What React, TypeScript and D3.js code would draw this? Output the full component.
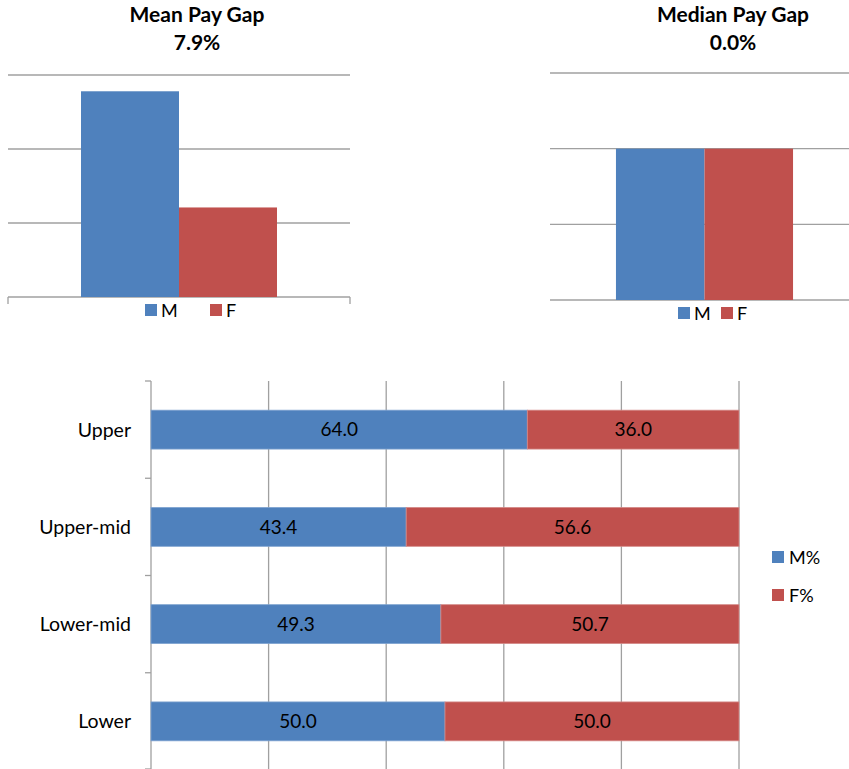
import React from "react";
import * as d3 from "d3";

const series = ["M", "F"];
const meanValues = [19.78, 18.21];
const meanDomain = [17, 20];
const meanTicks = [17, 18, 19, 20];
const medianValues = [18.0, 18.0];
const medianDomain = [16, 19];
const medianTicks = [16, 17, 18, 19];
const quartiles = ["Upper", "Upper-mid", "Lower-mid", "Lower"];
const malePct = [64.0, 43.4, 49.3, 50.0];
const femalePct = [36.0, 56.6, 50.7, 50.0];
const pctTicks = [0, 20, 40, 60, 80, 100];
const quartileLegend = ["M%", "F%"];

const BLUE = "#4F81BD";
const RED = "#C0504D";
const GRID = "#a0a0a0";
const FONT = "Lato, 'Open Sans', sans-serif";

function fmtGap(m: number, f: number) {
  return (((m - f) / m) * 100).toFixed(1) + "%";
}

type ColProps = {
  title: string;
  values: number[];
  domain: number[];
  ticks: number[];
  left: number;
  right: number;
  top: number;
  bottom: number;
  titleX: number;
  edgeTicks: boolean;
  legendX: number[];
};

function ColumnChart(p: ColProps) {
  const y = d3.scaleLinear().domain(p.domain).range([p.bottom, p.top]);
  const x = d3.scaleBand<string>().domain(series).range([p.left, p.right]).paddingInner(0).paddingOuter(0.745);
  const colors = [BLUE, RED];
  return (
    <g>
      <text x={p.titleX} y={22} textAnchor="middle" fontFamily={FONT} fontWeight="bold" fontSize={21} fill="#000">
        {p.title}
      </text>
      <text x={p.titleX} y={50} textAnchor="middle" fontFamily={FONT} fontWeight="bold" fontSize={21} fill="#000">
        {fmtGap(p.values[0], p.values[1])}
      </text>
      {p.ticks.map((t) => (
        <line key={t} x1={p.left} x2={p.right} y1={y(t)} y2={y(t)} stroke={GRID} strokeWidth={1.3} />
      ))}
      {p.edgeTicks && (
        <g>
          <line x1={p.left} x2={p.left} y1={p.bottom} y2={p.bottom + 7} stroke={GRID} strokeWidth={1.3} />
          <line x1={p.right} x2={p.right} y1={p.bottom} y2={p.bottom + 7} stroke={GRID} strokeWidth={1.3} />
        </g>
      )}
      {series.map((s, i) => (
        <rect key={s} x={x(s)} width={x.bandwidth()} y={y(p.values[i])} height={y(p.domain[0]) - y(p.values[i])} fill={colors[i]} />
      ))}
      {series.map((s, i) => (
        <g key={"lg" + s}>
          <rect x={p.legendX[i]} y={p.bottom + 7} width={12} height={12} fill={colors[i]} />
          <text x={p.legendX[i] + 16} y={p.bottom + 19.5} fontFamily={FONT} fontSize={18} fill="#000">
            {s}
          </text>
        </g>
      ))}
    </g>
  );
}

function QuartileChart() {
  const left = 151;
  const right = 739;
  const top = 381;
  const bottom = 770;
  const x = d3.scaleLinear().domain([0, 100]).range([left, right]);
  const y = d3.scaleBand<string>().domain(quartiles).range([top, bottom]).paddingInner(0.6).paddingOuter(0.3);
  const yb = d3.scaleBand<string>().domain(quartiles).range([top, bottom]);
  const cy = (q: string) => (y(q) as number) + y.bandwidth() / 2;
  return (
    <g>
      {pctTicks.slice(1).map((t) => (
        <line key={t} x1={x(t)} x2={x(t)} y1={top} y2={bottom} stroke={GRID} strokeWidth={1.3} />
      ))}
      <line x1={left} x2={left} y1={top} y2={bottom} stroke={GRID} strokeWidth={1.3} />
      {quartiles.map((q) => (
        <line key={"t" + q} x1={left - 6} x2={left} y1={yb(q)} y2={yb(q)} stroke={GRID} strokeWidth={1.3} />
      ))}
      <line x1={left - 6} x2={left} y1={bottom - 1} y2={bottom - 1} stroke={GRID} strokeWidth={1.3} />
      {quartiles.map((q, i) => (
        <g key={q}>
          <rect x={x(0)} y={y(q)} width={x(malePct[i]) - x(0)} height={y.bandwidth()} fill={BLUE} stroke="#7fa3d0" strokeWidth={0.8} />
          <rect x={x(malePct[i])} y={y(q)} width={x(malePct[i] + femalePct[i]) - x(malePct[i])} height={y.bandwidth()} fill={RED} stroke="#d48a88" strokeWidth={0.8} />
          <text x={(x(0) + x(malePct[i])) / 2} y={cy(q)} dy="0.36em" textAnchor="middle" fontFamily={FONT} fontSize={19} fill="#000">
            {malePct[i].toFixed(1)}
          </text>
          <text x={(x(malePct[i]) + x(malePct[i] + femalePct[i])) / 2} y={cy(q)} dy="0.36em" textAnchor="middle" fontFamily={FONT} fontSize={19} fill="#000">
            {femalePct[i].toFixed(1)}
          </text>
          <text x={131} y={cy(q)} dy="0.36em" textAnchor="end" fontFamily={FONT} fontSize={19.5} fill="#000">
            {q}
          </text>
        </g>
      ))}
      {quartileLegend.map((l, i) => (
        <g key={l}>
          <rect x={772} y={551 + i * 38} width={12} height={12} fill={i === 0 ? BLUE : RED} />
          <text x={789} y={563.5 + i * 38} fontFamily={FONT} fontSize={18} fill="#000">
            {l}
          </text>
        </g>
      ))}
    </g>
  );
}

export default function App() {
  return (
    <svg width={849} height={769} style={{ position: "absolute", left: 0, top: 0, background: "#fff" }}>
      <rect width={849} height={769} fill="#fff" />
      <ColumnChart
        title="Mean Pay Gap"
        values={meanValues}
        domain={meanDomain}
        ticks={meanTicks}
        left={8}
        right={350}
        top={75}
        bottom={297}
        titleX={197}
        edgeTicks={true}
        legendX={[145, 210]}
      />
      <ColumnChart
        title="Median Pay Gap"
        values={medianValues}
        domain={medianDomain}
        ticks={medianTicks}
        left={550}
        right={859}
        top={73}
        bottom={300}
        titleX={733}
        edgeTicks={false}
        legendX={[678, 721]}
      />
      <QuartileChart />
    </svg>
  );
}
